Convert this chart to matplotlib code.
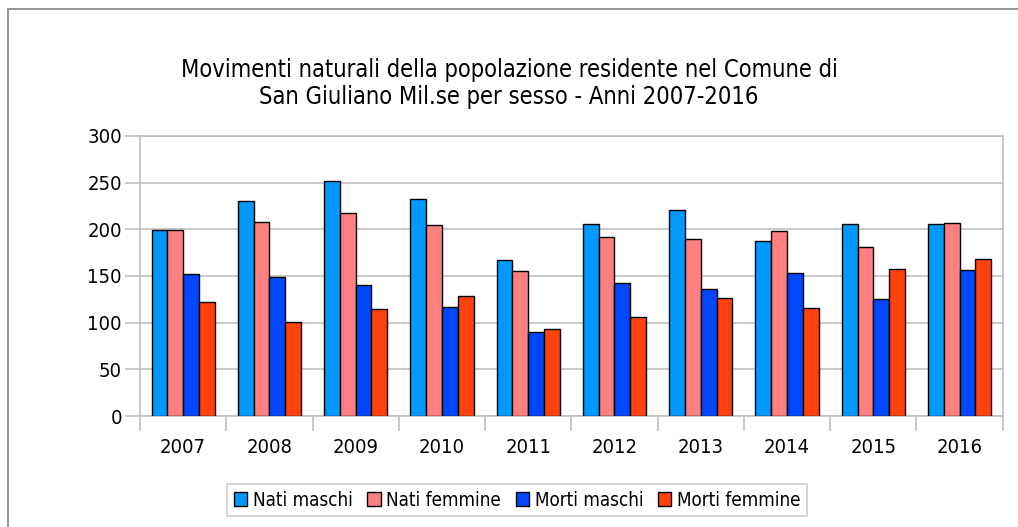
import numpy as np
import matplotlib.pyplot as plt
from matplotlib.patches import Rectangle

anni = ['2007', '2008', '2009', '2010', '2011', '2012', '2013', '2014', '2015', '2016']
nati_maschi = [199, 230, 252, 233, 167, 206, 221, 188, 206, 206]
nati_femmine = [199, 208, 218, 205, 155, 192, 190, 198, 181, 207]
morti_maschi = [152, 149, 140, 117, 90, 143, 136, 153, 125, 156]
morti_femmine = [122, 101, 115, 129, 93, 106, 126, 116, 158, 168]

serie = [
    ('Nati maschi', nati_maschi, '#0099ff'),
    ('Nati femmine', nati_femmine, '#ff8080'),
    ('Morti maschi', morti_maschi, '#0047ff'),
    ('Morti femmine', morti_femmine, '#ff420e'),
]

plt.rcParams['font.family'] = ['DejaVu Sans']
plt.rcParams['font.stretch'] = 'condensed'

fig = plt.figure(figsize=(10.18, 5.27), dpi=100)
ax = fig.add_axes([0.1375, 0.2106, 0.8475, 0.5314])

x = np.arange(len(anni))
w = 0.183
for i, (nome, valori, colore) in enumerate(serie):
    ax.bar(x + (i - 1.5) * w, valori, w, color=colore, edgecolor='black',
           linewidth=1.0, label=nome, zorder=3)

ax.set_xlim(-0.5, len(anni) - 0.5)
ax.set_ylim(0, 300)
ax.set_yticks(range(0, 301, 50))
ax.yaxis.grid(True, color='#c0c0c0', linewidth=1.2, zorder=0)

for s in ax.spines.values():
    s.set_color('#c0c0c0')
    s.set_linewidth(1.2)

ax.tick_params(axis='y', length=11, width=1.2, color='#c0c0c0',
               labelsize=14.5, pad=2)
ax.set_xticks(x)
ax.set_xticklabels(anni)
ax.tick_params(axis='x', length=0, labelsize=14.5, pad=16)
ax.set_xticks(np.arange(-0.5, len(anni), 1.0), minor=True)
ax.tick_params(axis='x', which='minor', length=11, width=1.2, color='#c0c0c0')

fig.text(0.5, 0.8416, 'Movimenti naturali della popolazione residente nel Comune di\n'
         'San Giuliano Mil.se per sesso - Anni 2007-2016',
         ha='center', va='center', fontsize=17, linespacing=1.17)

leg = fig.legend(loc='center', bbox_to_anchor=(0.508, 0.051), ncol=4,
                 fontsize=13.5, frameon=True, fancybox=False,
                 handlelength=0.7, handleheight=0.7, handletextpad=0.3,
                 columnspacing=0.8, borderpad=0.35)
leg.get_frame().set_edgecolor('#c0c0c0')
leg.get_frame().set_linewidth(1.2)

fig.patches.append(Rectangle((8 / 1018, -0.1), 1.2, 1.1 - 9 / 527,
                             transform=fig.transFigure, fill=False,
                             edgecolor='#808080', linewidth=1.2))

fig.savefig('out.png', dpi=100)
